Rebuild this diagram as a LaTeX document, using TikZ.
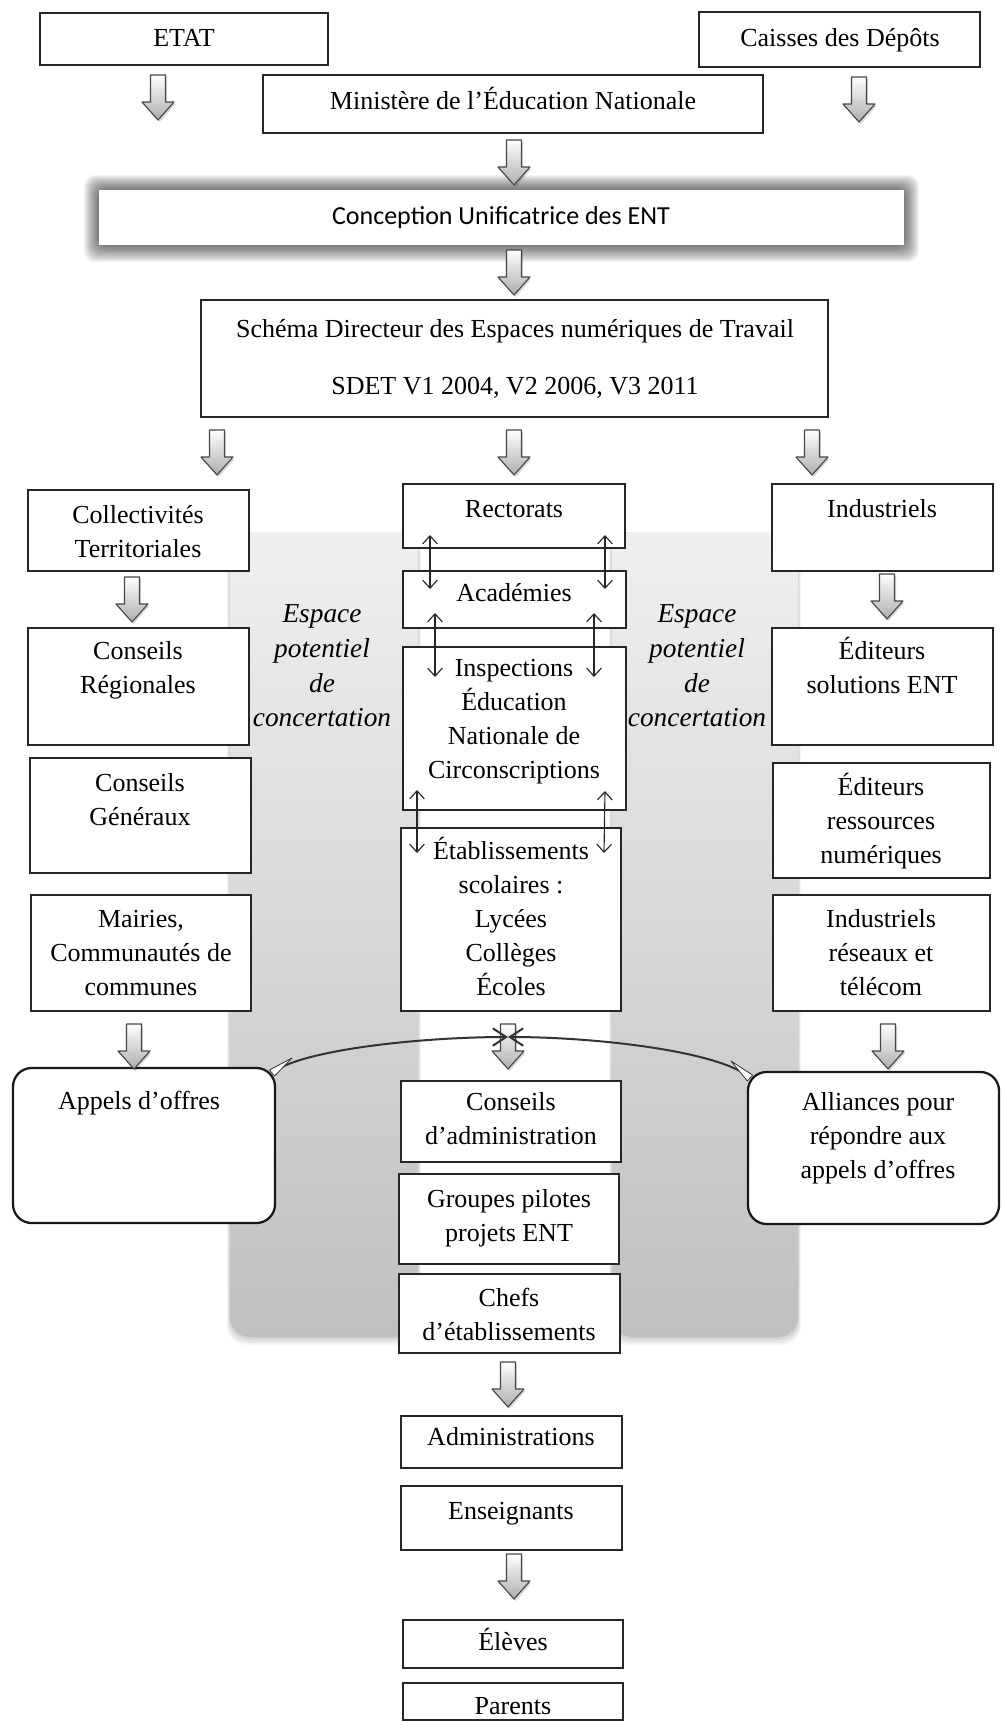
\documentclass[tikz,border=0pt]{standalone}
\usepackage{fontspec}
\setmainfont{Liberation Serif}
\newfontfamily\calib{Carlito}
\usetikzlibrary{arrows.meta,fit,calc}
\newcommand\firststrut{\rule{0pt}{20pt}}
\begin{document}
\begin{tikzpicture}[x=0.75pt,y=-0.75pt,
  box/.style={draw=black!85, line width=0.9pt, fill=white, inner sep=0pt, outer sep=0pt},
  rbox/.style={box, rounded corners=14pt, line width=1.7pt, draw=black!90},
  txt/.style={font=\fontsize{19.5pt}{25.5pt}\selectfont, align=center, inner sep=0pt, outer sep=0pt, anchor=north},
  esp/.style={font=\fontsize{20.5pt}{26pt}\selectfont\itshape, align=center, inner sep=0pt, outer sep=0pt, anchor=north},
  dbl/.style={line width=0.85pt, draw=black!85, {Straight Barb[length=6pt,width=11pt]}-{Straight Barb[length=6pt,width=11pt]}},
  arcl/.style={line width=1.5pt, draw=black!80, -{Straight Barb[length=10pt,width=13pt]}},
  tailw/.style={fill=white, draw=black!80, line width=0.6pt, line join=round},
  barrow/.pic={
    \fill[black,opacity=0.16] (-6,2) -- (9,2) -- (9,29) -- (17.5,29) -- (1.5,47) -- (-14.5,29) -- (-6,29) -- cycle;
    \shadedraw[top color=white, bottom color=black!32, draw=black!72, line width=0.85pt, line join=round]
      (-7.5,0) -- (7.5,0) -- (7.5,27) -- (16,27) -- (0,45) -- (-16,27) -- (-7.5,27) -- cycle;
  }
]
\useasboundingbox (0,0) rectangle (1001,1721);
\fill[white] (0,0) rectangle (1001,1721);

% gray panels
\foreach \xa/\xb in {230/418, 612/798}{
  \foreach \k in {1,...,5}{
    \fill[black, opacity=0.035, rounded corners=15pt] (\xa-\k*0.6,532) rectangle (\xb+\k*0.6,1337+\k*1.6);
  }
  \shade[top color=black!6, bottom color=black!25, rounded corners=15pt] (\xa,532) rectangle (\xb,1337);
}

% glow of Conception box
\foreach \k in {15,14,...,1}{
  \fill[black, opacity=0.042, rounded corners=8pt] (99-\k,190-\k) rectangle (904+\k,245+1.15*\k);
}

% boxes
\node[box, fit={(40,13)(328,65)}] (etat) {};
\node[box, fit={(699,12)(980,67)}] (caisses) {};
\node[box, fit={(263,75)(763,133)}] (minist) {};
\node[box, draw=none, fit={(99,190)(904,245)}] (concep) {};
\node[box, fit={(201,300)(828,417)}] (schema) {};
\node[box, fit={(28,490)(249,571)}] (collect) {};
\node[box, fit={(28,628)(249,745)}] (regio) {};
\node[box, fit={(30,758)(251,873)}] (gener) {};
\node[box, fit={(31,895)(251,1011)}] (mairies) {};
\node[rbox, fit={(13,1068)(275,1223)}] (appels) {};
\node[box, fit={(403,484)(625,548)}] (rect) {};
\node[box, fit={(403,571)(626,628)}] (acad) {};
\node[box, fit={(403,647)(626,810)}] (insp) {};
\node[box, fit={(401,828)(621,1011)}] (etab) {};
\node[box, fit={(401,1081)(621,1162)}] (cadmin) {};
\node[box, fit={(399,1174)(619,1264)}] (groupes) {};
\node[box, fit={(399,1274)(620,1353)}] (chefs) {};
\node[box, fit={(401,1416)(622,1468)}] (admin) {};
\node[box, fit={(401,1486)(622,1550)}] (ens) {};
\node[box, fit={(403,1620)(623,1668)}] (eleves) {};
\node[box, fit={(403,1683)(623,1720)}] (parents) {};
\node[box, fit={(772,484)(993,571)}] (indus) {};
\node[box, fit={(772,628)(993,745)}] (edsol) {};
\node[box, fit={(773,763)(990,878)}] (edres) {};
\node[box, fit={(773,895)(990,1011)}] (telecom) {};
\node[rbox, fit={(748,1072)(999,1224)}] (alliances) {};

% texts
\node[txt] (etat-t) at (184,20.3) {\firststrut ETAT};
\node[txt] (caisses-t) at (840,20.3) {\firststrut Caisses des Dépôts};
\node[txt] (minist-t) at (513,83.3) {\firststrut Ministère de l’Éducation Nationale};
\node[font=\fontsize{19.5pt}{24pt}\calib, inner sep=0pt] (concep-t) at (501,218) {Conception Unificatrice des ENT};
\node[txt] (schema-t) at (515,311.3) {\firststrut Schéma Directeur des Espaces numériques de Travail\\[17.25pt] SDET V1 2004, V2 2006, V3 2011};
\node[txt] (collect-t) at (138,497.3) {\firststrut Collectivités\\Territoriales};
\node[txt] (regio-t) at (138,633.3) {\firststrut Conseils\\Régionales};
\node[txt] (gener-t) at (140,765.3) {\firststrut Conseils\\Généraux};
\node[txt] (mairies-t) at (141,901.3) {\firststrut Mairies,\\Communautés de\\communes};
\node[txt] (appels-t) at (139,1083.3) {\firststrut Appels d’offres};
\node[txt] (rect-t) at (514,491.3) {\firststrut Rectorats};
\node[txt] (acad-t) at (514,575.3) {\firststrut Académies};
\node[txt] (insp-t) at (514,650.3) {\firststrut Inspections\\Éducation\\Nationale de\\Circonscriptions};
\node[txt] (etab-t) at (511,833.3) {\firststrut Établissements\\scolaires :\\Lycées\\Collèges\\Écoles};
\node[txt] (cadmin-t) at (511,1084.3) {\firststrut Conseils\\d’administration};
\node[txt] (groupes-t) at (509,1181.3) {\firststrut Groupes pilotes\\projets ENT};
\node[txt] (chefs-t) at (509,1280.3) {\firststrut Chefs\\d’établissements};
\node[txt] (admin-t) at (511,1419.3) {\firststrut Administrations};
\node[txt] (ens-t) at (511,1493.3) {\firststrut Enseignants};
\node[txt] (eleves-t) at (513,1624.3) {\firststrut Élèves};
\node[txt] (parents-t) at (513,1688.3) {\firststrut Parents};
\node[txt] (indus-t) at (882,491.3) {\firststrut Industriels};
\node[txt] (edsol-t) at (882,633.3) {\firststrut Éditeurs\\solutions ENT};
\node[txt] (edres-t) at (881,769.3) {\firststrut Éditeurs\\ressources\\numériques};
\node[txt] (telecom-t) at (881,901.3) {\firststrut Industriels\\réseaux et\\télécom};
\node[txt] (alliances-t) at (878,1084.3) {\firststrut Alliances pour\\répondre aux\\appels d’offres};
\node[esp] (espL) at (322,596.3) {\firststrut Espace\\potentiel\\de\\concertation};
\node[esp] (espR) at (697,596.3) {\firststrut Espace\\potentiel\\de\\concertation};

% block arrows
\pic at (158,75) {barrow};
\pic at (859,77) {barrow};
\pic at (514,140) {barrow};
\pic at (514,250) {barrow};
\pic at (217,430) {barrow};
\pic at (514,430) {barrow};
\pic at (812,430) {barrow};
\pic at (132,577) {barrow};
\pic at (887,574) {barrow};
\pic at (134,1024) {barrow};
\pic at (508,1024) {barrow};
\pic at (888,1024) {barrow};
\pic at (508,1362) {barrow};
\pic at (514,1554) {barrow};

% curved arrows to the centre
\coordinate (apex) at (508,1037);
\draw[arcl] ($(appels.north east)+(-3,5)$) .. controls (300,1050) and (420,1037) .. (apex);
\draw[arcl] ($(alliances.north west)+(2,6)$) .. controls (722,1052) and (600,1037) .. (apex);
\filldraw[tailw] (292,1058) -- ($(appels.north east)+(-0.5,8)$) -- ($(appels.north east)+(-5.5,2)$) -- cycle;
\filldraw[tailw] (731,1061) -- ($(alliances.north west)+(4.7,3.1)$) -- ($(alliances.north west)+(-0.7,8.9)$) -- cycle;

% double arrows
\draw[dbl] ($(rect.south west)+(27,-13)$) -- ($(acad.north west)+(27,18)$);
\draw[dbl] ($(rect.south east)+(-20,-13)$) -- ($(acad.north east)+(-21,18)$);
\draw[dbl] ($(acad.south west)+(32,-15)$) -- ($(insp.north west)+(32,30)$);
\draw[dbl] ($(acad.south east)+(-32,-15)$) -- ($(insp.north east)+(-32,30)$);
\draw[dbl] ($(insp.south west)+(14,-20)$) -- ($(etab.north west)+(16,25)$);
\draw[dbl] ($(insp.south east)+(-21,-19)$) -- ($(etab.north east)+(-17,25)$);
\end{tikzpicture}
\end{document}
